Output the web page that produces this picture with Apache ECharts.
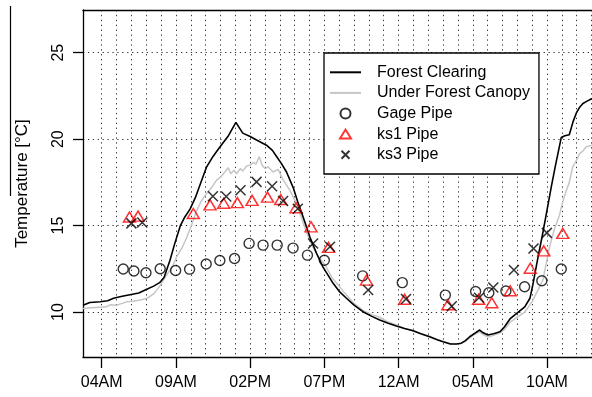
<!DOCTYPE html>
<html>
<head>
<meta charset="utf-8">
<script src="https://cdn.jsdelivr.net/npm/echarts@6/dist/echarts.min.js"></script>
<style>
  html, body { margin: 0; padding: 0; background: #fff; }
  #chart-container { width: 592px; height: 397px; }
</style>
</head>
<body>
<div id="chart-container"></div>
<script>
var dom = document.getElementById('chart-container');
var myChart = echarts.init(dom, null, { renderer: 'canvas' });

// hours counted from midnight of day 1
var tickHours = [4, 9, 14, 19, 24, 29, 34];
var tickLabels = ['04AM', '09AM', '02PM', '07PM', '12AM', '05AM', '10AM'];
var gridHours = [];
for (var h = 4; h <= 37; h++) gridHours.push(h);
var tempTicks = [10, 15, 20, 25];

// Forest Clearing (black line)
var clearingHours = [2.74, 3.2, 3.9, 4.4, 4.8, 5.3, 5.9, 6.5, 7.0, 7.5, 7.9, 8.2, 8.6, 8.9, 9.3, 9.6, 9.95, 10.3, 10.6, 11.07,
  11.5, 11.96, 12.5, 13.04, 13.5, 14.0, 14.43, 15.1, 15.5, 15.78, 16.1, 16.45, 16.9, 17.2, 17.57, 18.02, 18.47, 18.91, 19.59, 20.0,
  20.49, 21.0, 21.6, 22.2, 22.73, 23.3, 23.85, 24.4, 24.97, 25.5, 26.09, 26.6, 27.0, 27.5, 27.9, 28.23, 28.5, 28.79, 29.1, 29.46,
  29.7, 30.02, 30.4, 30.83, 31.14, 31.5, 32.0, 32.5, 32.85, 33.05, 33.4, 33.7, 34.0, 34.3, 34.55, 34.96, 35.2, 35.5, 35.75, 35.97,
  36.2, 36.42, 36.7, 37.03];
var clearingTemps = [10.4, 10.55, 10.6, 10.65, 10.8, 10.9, 11.0, 11.1, 11.3, 11.5, 11.7, 12.0, 13.0, 13.9, 15.0, 15.5, 15.95, 16.6, 17.3, 18.4,
  19.0, 19.55, 20.15, 20.97, 20.35, 20.15, 19.95, 19.65, 19.35, 19.0, 18.6, 18.1, 17.2, 16.4, 15.5, 14.35, 13.4, 12.6, 11.66, 11.2,
  10.8, 10.4, 10.02, 9.75, 9.54, 9.35, 9.19, 9.05, 8.92, 8.75, 8.57, 8.4, 8.28, 8.15, 8.15, 8.2, 8.35, 8.57, 8.75, 8.96,
  8.8, 8.67, 8.75, 8.86, 9.15, 9.6, 9.95, 10.3, 10.8, 11.6, 13.2, 14.5, 15.9, 17.3, 18.4, 20.1, 20.2, 20.25, 21.0, 21.5,
  21.85, 22.06, 22.2, 22.35];

// Under Forest Canopy (grey line)
var canopyHours = [2.74, 3.3, 3.9, 4.3, 4.6, 5.0, 5.4, 5.7, 6.1, 6.6, 7.0, 7.25, 7.5, 7.7, 7.95, 8.15, 8.5, 8.82, 9.05, 9.4,
  9.72, 10.0, 10.39, 10.7, 11.07, 11.4, 11.74, 12.0, 12.3, 12.52, 12.7, 12.9, 13.08, 13.35, 13.5, 13.76, 14.0, 14.2, 14.4, 14.61,
  14.8, 14.99, 15.2, 15.55, 15.88, 16.05, 16.22, 16.67, 17.12, 17.4, 17.8, 18.2, 18.6, 19.05, 19.5, 19.9, 20.49, 21.0, 21.6, 22.2,
  22.73, 23.3, 23.85, 24.4, 24.97, 25.5, 26.09, 26.6, 27.0, 27.5, 27.9, 28.23, 28.5, 28.79, 29.1, 29.46, 29.7, 30.02, 30.4, 30.83,
  31.14, 31.5, 32.0, 32.5, 33.0, 33.4, 33.72, 34.17, 34.5, 34.84, 35.0, 35.29, 35.5, 35.73, 36.0, 36.18, 36.4, 36.63, 37.03];
var canopyTemps = [10.2, 10.25, 10.28, 10.3, 10.42, 10.4, 10.5, 10.6, 10.62, 10.7, 10.78, 10.9, 11.05, 11.27, 11.55, 11.85, 12.3, 12.72, 13.2, 13.7,
  14.3, 14.9, 15.85, 16.4, 16.86, 17.2, 17.63, 17.8, 18.1, 18.35, 18.0, 18.2, 18.0, 18.3, 18.15, 18.45, 18.5, 18.65, 18.55, 19.0,
  18.5, 18.3, 18.4, 18.1, 18.25, 17.95, 17.65, 17.05, 16.28, 15.6, 14.6, 13.8, 13.2, 12.72, 12.0, 11.6, 10.98, 10.5, 10.1, 9.85,
  9.7, 9.42, 9.25, 9.05, 8.95, 8.75, 8.6, 8.42, 8.3, 8.15, 8.15, 8.2, 8.3, 8.5, 8.7, 8.85, 8.7, 8.55, 8.65, 8.8,
  9.0, 9.4, 9.7, 10.0, 10.6, 11.3, 11.85, 13.77, 14.8, 15.6, 16.2, 17.0, 17.5, 18.4, 18.8, 19.15, 19.3, 19.55, 19.65];

// Gage Pipe (circles)
var gageHours = [5.45, 6.17, 6.98, 7.94, 8.98, 9.92, 11.04, 11.96, 12.95, 13.93, 14.87, 15.82, 16.89, 17.86, 19.0, 21.58, 24.25, 27.15,
  29.19, 30.08, 31.23, 32.49, 33.65, 34.96];
var gageTemps = [12.49, 12.37, 12.27, 12.5, 12.4, 12.48, 12.78, 12.98, 13.1, 13.97, 13.87, 13.87, 13.7, 13.29, 13.0, 12.09, 11.7, 10.98,
  11.19, 11.12, 11.22, 11.46, 11.81, 12.49];

// ks1 Pipe (red triangles)
var ks1Hours = [5.87, 6.45, 10.17, 11.3, 12.22, 13.14, 14.13, 15.17, 16.06, 17.09, 18.1, 19.28, 21.84, 24.41, 27.32, 29.39, 30.28,
  31.52, 32.87, 33.78, 35.06];
var ks1Temps = [15.5, 15.55, 15.7, 16.2, 16.29, 16.33, 16.46, 16.65, 16.51, 16.03, 14.93, 13.74, 11.85, 10.74, 10.42, 10.74, 10.54,
  11.23, 12.53, 13.54, 14.55];

// ks3 Pipe (crosses)
var ks3Hours = [6.0, 6.73, 11.49, 12.39, 13.35, 14.43, 15.48, 16.22, 17.21, 18.24, 19.38, 21.95, 24.5, 27.58, 29.42, 30.38, 31.77,
  33.09, 33.99];
var ks3Temps = [15.13, 15.18, 16.7, 16.68, 17.05, 17.53, 17.28, 16.42, 15.98, 13.97, 13.78, 11.27, 10.75, 10.33, 10.83, 11.42, 12.43,
  13.68, 14.58];

function zip(xs, ys) {
  return xs.map(function (x, i) { return [x, ys[i]]; });
}

var font = 'Liberation Sans';
var dotted = { color: '#333', width: 1, type: [1.3, 3.6] };
var hideSymbol = { color: 'rgba(0,0,0,0)', borderWidth: 0, opacity: 0 };

var option = {
  animation: false,
  backgroundColor: '#fff',
  textStyle: { fontFamily: font },
  grid: { left: 83, top: 10, right: 0, bottom: 40, containLabel: false },
  legend: {
    orient: 'vertical',
    left: 324,
    top: 53,
    data: [
      { name: 'Forest Clearing', itemStyle: hideSymbol },
      { name: 'Under Forest Canopy', itemStyle: hideSymbol },
      { name: 'Gage Pipe', icon: 'circle' },
      { name: 'ks1 Pipe', icon: 'path://M0,0M10,9.5L15.5,0.5L21,9.5Z M31,10' },
      { name: 'ks3 Pipe', icon: 'path://M0,0M11.5,1L19.5,9M19.5,1L11.5,9M31,10' }
    ],
    backgroundColor: '#fff',
    borderColor: '#000',
    borderWidth: 1.3,
    borderRadius: 0,
    padding: [9, 9, 9, 5],
    itemWidth: 31,
    itemHeight: 10,
    itemGap: 0,
    textStyle: { fontFamily: font, fontSize: 16, color: '#000', lineHeight: 20.6, padding: [0, 0, 0, 11] }
  },
  xAxis: [
    {
      type: 'value',
      min: 2.74,
      max: 37.03,
      position: 'bottom',
      axisLine: { show: true, onZero: false, lineStyle: { color: '#000', width: 1.3 } },
      axisTick: { show: true, customValues: tickHours, length: 11, lineStyle: { color: '#000', width: 1.3 } },
      axisLabel: {
        customValues: tickHours,
        margin: 18,
        fontSize: 16,
        fontFamily: font,
        color: '#000',
        formatter: function (v) { return tickLabels[tickHours.indexOf(v)]; }
      },
      splitLine: { show: false }
    },
    {
      type: 'value',
      min: 2.74,
      max: 37.03,
      position: 'top',
      axisLine: { show: true, onZero: false, lineStyle: { color: '#000', width: 1.3 } },
      axisTick: { show: false, customValues: gridHours },
      axisLabel: { show: false },
      splitLine: { show: true, lineStyle: dotted }
    }
  ],
  yAxis: {
    type: 'value',
    min: 7.4,
    max: 27.47,
    name: 'Temperature [°C]',
    nameLocation: 'middle',
    nameGap: 52,
    nameTextStyle: { fontFamily: font, fontSize: 17, color: '#000' },
    axisLine: { show: true, onZero: false, lineStyle: { color: '#000', width: 1.3 } },
    axisTick: { show: true, customValues: tempTicks, length: 10, lineStyle: { color: '#000', width: 1.3 } },
    axisLabel: { customValues: tempTicks, rotate: 90, margin: 16.5, fontSize: 16, fontFamily: font, color: '#000' },
    splitLine: { show: true, lineStyle: dotted }
  },
  graphic: [
    { type: 'line', shape: { x1: 10.5, y1: 6, x2: 10.5, y2: 196 }, style: { stroke: '#000', lineWidth: 1.2 } }
  ],
  series: [
    {
      name: 'Forest Clearing',
      type: 'line',
      data: zip(clearingHours, clearingTemps),
      symbol: 'none',
      z: 3,
      lineStyle: { color: '#000', width: 1.6 },
      itemStyle: { color: '#000' }
    },
    {
      name: 'Under Forest Canopy',
      type: 'line',
      data: zip(canopyHours, canopyTemps),
      symbol: 'none',
      z: 2,
      lineStyle: { color: '#c6c6c6', width: 1.5 },
      itemStyle: { color: '#c6c6c6' }
    },
    {
      name: 'Gage Pipe',
      type: 'scatter',
      data: zip(gageHours, gageTemps),
      symbol: 'circle',
      symbolSize: 10,
      z: 4,
      itemStyle: { color: 'rgba(0,0,0,0)', borderColor: '#000', borderWidth: 1.4 }
    },
    {
      name: 'ks1 Pipe',
      type: 'scatter',
      data: zip(ks1Hours, ks1Temps),
      symbol: 'triangle',
      symbolSize: [12, 10],
      z: 4,
      itemStyle: { color: 'rgba(0,0,0,0)', borderColor: '#ff0000', borderWidth: 1.5 }
    },
    {
      name: 'ks3 Pipe',
      type: 'scatter',
      data: zip(ks3Hours, ks3Temps),
      symbol: 'path://M0,0L10,10M10,0L0,10',
      symbolSize: 10,
      z: 4,
      itemStyle: { color: 'rgba(0,0,0,0)', borderColor: '#000', borderWidth: 1.5 }
    }
  ]
};

myChart.setOption(option);
window.addEventListener('resize', myChart.resize);
</script>
</body>
</html>
